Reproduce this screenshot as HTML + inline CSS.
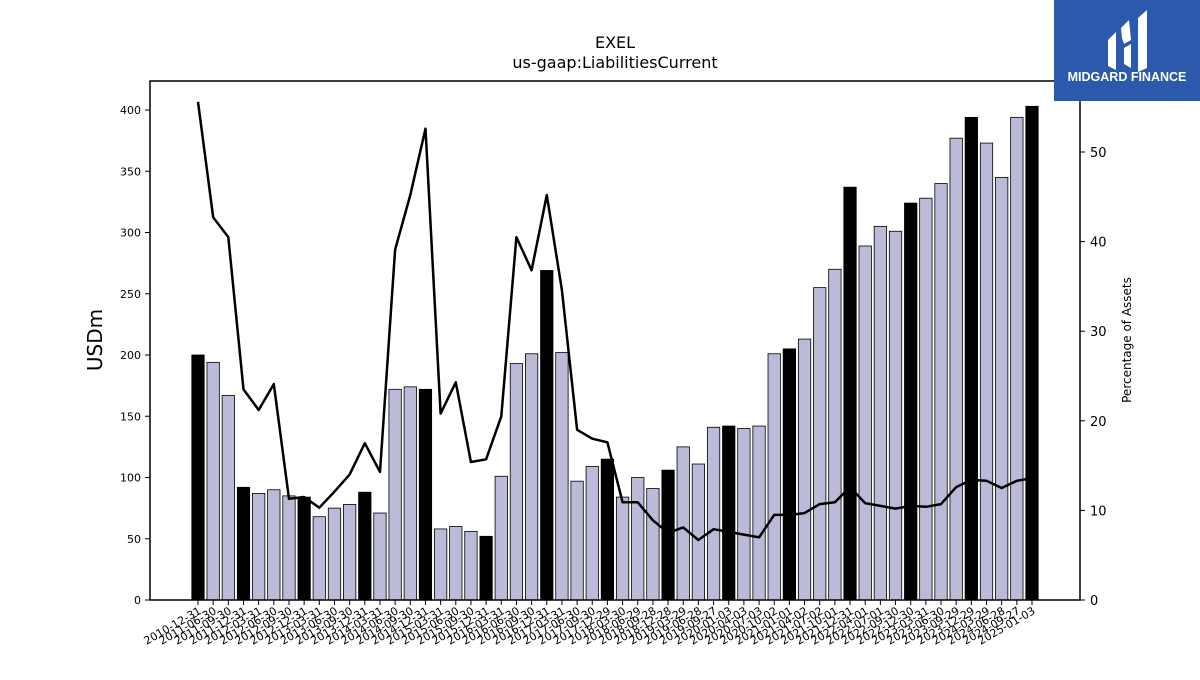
<!DOCTYPE html>
<html><head><meta charset="utf-8"><style>
body{margin:0;background:#fff;font-family:"Liberation Sans","DejaVu Sans",sans-serif}
</style></head><body>
<svg id="c" width="1200" height="675" xmlns="http://www.w3.org/2000/svg" style="font-family:'DejaVu Sans','Liberation Sans',sans-serif">
<text x="615" y="48" font-size="16" text-anchor="middle">EXEL</text>
<text x="615" y="68" font-size="16" text-anchor="middle">us-gaap:LiabilitiesCurrent</text>
<g id="bars"></g>
<g id="axes"></g>
<text transform="translate(102,340) rotate(-90)" font-size="20" text-anchor="middle">USDm</text>
<text transform="translate(1131,340) rotate(-90)" font-size="12" text-anchor="middle">Percentage of Assets</text>
<g>
<rect x="1054" y="0" width="146" height="101" fill="#2b5aad"/>
<path d="M1108 40 L1116 32 L1116 70 L1108 66 Z M1121 28 L1129 20 L1131 40 L1124 44 L1122 38 Z M1138 18 L1147 10 L1147 68 L1138 72 Z M1124 48 L1131 44 L1131 68 L1124 64 Z" fill="#fff"/>
<text x="1127" y="81" font-size="12.5" font-weight="bold" fill="#fff" text-anchor="middle" font-family="Liberation Sans, sans-serif">MIDGARD FINANCE</text>
</g>
</svg>
<script>
const labels=["2010-12-31","2011-06-30","2011-09-30","2011-12-31","2012-03-31","2012-06-30","2012-09-30","2012-12-31","2013-03-31","2013-06-30","2013-09-30","2013-12-31","2014-03-31","2014-06-30","2014-09-30","2014-12-31","2015-03-31","2015-06-30","2015-09-30","2015-12-31","2016-03-31","2016-06-30","2016-09-30","2016-12-31","2017-03-31","2017-06-30","2017-09-30","2017-12-29","2018-03-30","2018-06-29","2018-09-28","2018-12-28","2019-03-29","2019-06-28","2019-09-27","2020-01-03","2020-04-03","2020-07-03","2020-10-02","2021-01-01","2021-04-02","2021-07-02","2021-10-01","2021-12-31","2022-04-01","2022-07-01","2022-09-30","2022-12-30","2023-03-31","2023-06-30","2023-09-29","2023-12-29","2024-03-29","2024-06-28","2024-09-27","2025-01-03"];
const values=[200,194,167,92,87,90,85,84,68,75,78,88,71,172,174,172,58,60,56,52,101,193,201,269,202,97,109,115,84,100,91,106,125,111,141,142,140,142,201,205,213,255,270,337,289,305,301,324,328,340,377,394,373,345,394,403];
const pct=[55.6,42.7,40.5,23.5,21.2,24.1,11.3,11.5,10.3,12.1,14.0,17.5,14.3,39.1,45.2,52.6,20.8,24.3,15.4,15.7,20.5,40.5,36.8,45.2,34.6,19.0,18.0,17.6,10.9,10.9,8.9,7.5,8.1,6.7,7.9,7.6,7.3,7.0,9.5,9.5,9.7,10.7,10.9,12.6,10.8,10.5,10.2,10.5,10.4,10.7,12.6,13.4,13.3,12.5,13.3,13.6];
const leftTicks=[0,50,100,150,200,250,300,350,400];
const rightTicks=[0,10,20,30,40,50];
const NS="http://www.w3.org/2000/svg";
const L=150,R=1080,T=81,B=600;
const x0=198,x1=1032;
const X=i=>x0+(x1-x0)*i/(labels.length-1);
const Y=v=>B-v*(490/400);
const Y2=v=>B-v*(448/50);
function mk(t,a,p){const e=document.createElementNS(NS,t);for(const k in a)e.setAttribute(k,a[k]);p.appendChild(e);return e;}
const bars=document.getElementById('bars'),axes=document.getElementById('axes');
const bw=12.4;
values.forEach((v,i)=>{
 const annual=(i===0)||((i-3)%4===0);
 const r=mk('rect',{x:X(i)-bw/2,y:Y(v),width:bw,height:B-Y(v),fill:annual?'#000':'#bcbad9',stroke:'#000','stroke-width':0.8},bars);
 
 
});
let d=pct.map((p,i)=>(i?'L':'M')+X(i).toFixed(1)+' '+Y2(p).toFixed(1)).join(' ');
const ln=mk('path',{d:d,fill:'none',stroke:'#000','stroke-width':2.5,'stroke-linejoin':'round'},bars);


mk('rect',{x:L,y:T,width:R-L,height:B-T,fill:'none',stroke:'#000','stroke-width':1.5},axes);
leftTicks.forEach(t=>{mk('line',{x1:L-5,x2:L,y1:Y(t),y2:Y(t),stroke:'#000'},axes);
 const e=mk('text',{x:L-9,y:Y(t)+4,'font-size':11,'text-anchor':'end'},axes);e.textContent=t;
 });
rightTicks.forEach(t=>{mk('line',{x1:R,x2:R+5,y1:Y2(t),y2:Y2(t),stroke:'#000'},axes);
 const e=mk('text',{x:R+10,y:Y2(t)+5,'font-size':13},axes);e.textContent=t;
 });
labels.forEach((lb,i)=>{const x=X(i);mk('line',{x1:x,x2:x,y1:B,y2:B+5,stroke:'#000'},axes);
 const e=mk('text',{x:x+4,y:B+13,'font-size':11,'text-anchor':'end',transform:`rotate(-30 ${x+4} ${B+13})`},axes);e.textContent=lb;
 });
</script>
</body></html>
